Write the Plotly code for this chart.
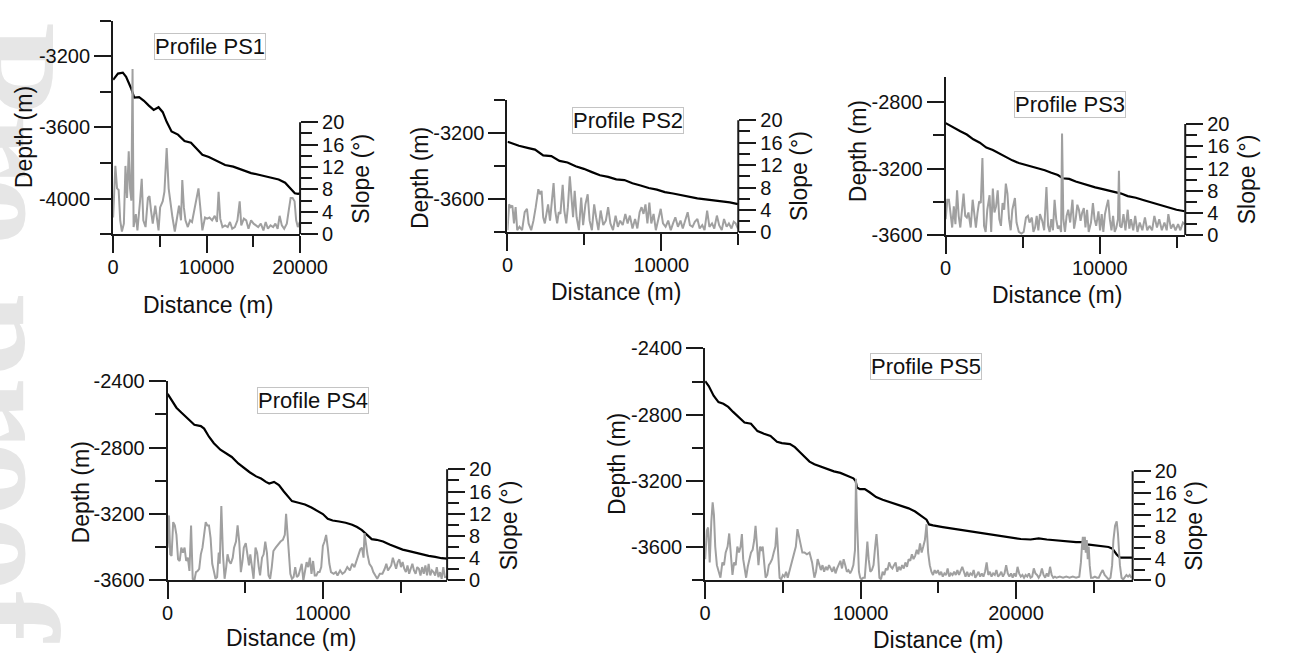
import plotly.graph_objects as go

W, H = 1296, 663

# ---------------- data ----------------
# PS1
ps1_dist = [0, 520, 1040, 1390, 1910, 2260, 2780, 3300, 3820, 4340, 4860, 5310, 5730, 6250, 6940, 7640,
            8330, 8850, 9550, 10240, 11110, 11980, 12850, 13720, 14760, 15800, 16840, 17710, 18400,
            18920, 19440, 19790, 20000]
ps1_depth = [-3333, -3297, -3292, -3315, -3378, -3432, -3429, -3450, -3477, -3501, -3486, -3514, -3568,
             -3622, -3640, -3676, -3685, -3712, -3753, -3766, -3789, -3811, -3820, -3838, -3856, -3868,
             -3879, -3892, -3910, -3937, -3969, -3973, -3970]
ps1_sdist = [0, 240, 420, 590, 760, 940, 1150, 1320, 1490, 1670, 1810, 1950, 2080, 2190, 2430, 2600, 2880,
             3060, 3230, 3470, 3720, 3890, 4060, 4240, 4510, 4690, 4860, 5030, 5310, 5490, 5730, 5940,
             6150, 6350, 6600, 6840, 7050, 7260, 7400, 7570, 7740, 7990, 8230, 8440, 8680, 8920, 9130,
             9310, 9550, 9830, 10070, 10310, 10590, 10870, 11110, 11280, 11460, 11700, 11980, 12260,
             12500, 12740, 13020, 13300, 13540, 13710, 13990, 14240, 14480, 14760, 15030, 15280, 15520,
             15800, 16080, 16320, 16560, 16840, 17120, 17360, 17600, 17810, 18050, 18300, 18580, 18780,
             18990, 19200, 19410, 19580, 19760, 19960]
ps1_slope = [3.0, 12.2, 8.2, 7.9, 2.5, 0.5, 1.9, 12.2, 6.5, 14.8, 8.2, 6.0, 29.5, 1.3, 3.6, 0.7, 5.9,
             9.9, 2.5, 1.3, 6.5, 6.8, 4.2, 1.9, 5.1, 3.0, 0.7, 4.8, 5.9, 7.6, 15.4, 8.2,
             5.3, 3.0, 0.5, 3.0, 5.1, 2.5, 9.7, 4.8, 2.5, 1.3, 2.5, 2.2, 4.5, 6.5, 8.2,
             5.1, 0.7, 3.0, 2.8, 3.0, 2.5, 3.3, 2.2, 7.6, 2.8, 1.3, 1.6, 1.3,
             2.2, 1.0, 1.3, 2.5, 5.9, 1.6, 2.8, 2.5, 1.0, 2.5, 1.9, 1.6, 1.3,
             1.9, 0.7, 2.2, 1.0, 1.6, 1.3, 1.9, 1.0, 3.3, 1.6, 1.0, 1.9, 4.2,
             6.5, 6.5, 5.9, 2.5, 1.3, 2.2]

# PS2
ps2_dist = [0, 740, 1370, 1790, 2320, 2850, 3380, 3900, 4430, 4960, 5490, 6010, 6540, 7070, 7600, 8120,
            8650, 9180, 9710, 10230, 10760, 11290, 11820, 12340, 12870, 13400, 13930, 14450, 14980]
ps2_depth = [-3252, -3277, -3291, -3300, -3335, -3339, -3368, -3378, -3401, -3416, -3436, -3455, -3465,
             -3480, -3484, -3503, -3517, -3532, -3542, -3557, -3565, -3575, -3585, -3594, -3600, -3606,
             -3614, -3619, -3629]
ps2_sdist = [0, 106, 211, 317, 422, 528, 633, 781, 950, 1118, 1266, 1372, 1540, 1688, 1836, 2005, 2110,
             2216, 2321, 2427, 2532, 2638, 2764, 2891, 2996, 3102, 3228, 3334, 3439, 3587, 3693, 3819,
             3925, 4051, 4157, 4262, 4368, 4494, 4642, 4790, 4916, 5064, 5212, 5338, 5486, 5634, 5760,
             5908, 6056, 6225, 6393, 6541, 6689, 6858, 7026, 7174, 7322, 7491, 7659, 7807, 7955, 8124,
             8292, 8440, 8588, 8714, 8841, 8968, 9094, 9221, 9347, 9495, 9643, 9812, 9959, 10107, 10276,
             10445, 10613, 10761, 10909, 11078, 11246, 11394, 11542, 11711, 11858, 12027, 12175, 12344,
             12491, 12660, 12808, 12977, 13124, 13293, 13441, 13610, 13757, 13926, 14074, 14243, 14390,
             14559, 14707, 14833, 14981]
ps2_slope = [0.4, 5.0, 4.5, 4.8, 1.6, 4.5, 0.4, 1.0, 0.4, 3.6, 4.2, 1.6, 0.4, 2.1, 4.5, 7.7, 6.8,
             7.4, 2.7, 1.6, 3.3, 5.0, 2.1, 6.5, 8.8, 3.9, 1.6, 3.6, 3.3, 8.5, 3.9, 1.6,
             4.5, 10.0, 5.6, 2.7, 7.4, 2.7, 0.4, 6.2, 1.3, 5.0, 6.8, 2.1, 0.4, 5.0, 2.7,
             0.4, 3.9, 1.3, 2.1, 4.5, 1.6, 0.4, 3.0, 1.0, 2.1, 1.3, 3.3, 1.6, 3.0, 0.7,
             2.4, 0.7, 3.6, 4.5, 3.3, 5.0, 1.6, 5.3, 1.6, 3.3, 0.4, 2.4, 4.2, 1.6, 1.0,
             2.1, 0.4, 1.6, 2.7, 1.0, 2.1, 0.7, 2.1, 3.6, 1.3, 1.0, 1.9, 2.4,
             0.7, 1.3, 0.4, 3.9, 1.0, 1.6, 0.7, 3.0, 1.3, 0.4, 2.4, 1.0, 1.6,
             0.7, 1.9, 1.6, 0.7]

# PS3
ps3_dist = [0, 528, 950, 1371, 1793, 2215, 2637, 3060, 3481, 3903, 4325, 4747, 5170, 5591, 6013, 6435,
            6857, 7280, 7596, 8018, 8440, 8862, 9284, 9706, 10128, 10550, 10972, 11394, 11816, 12344,
            12871, 13399, 13926, 14454, 14981, 15509]
ps3_depth = [-2928, -2957, -2977, -2996, -3025, -3045, -3074, -3089, -3109, -3132, -3151, -3167, -3177,
             -3186, -3200, -3210, -3225, -3239, -3258, -3262, -3278, -3291, -3303, -3313, -3322, -3330,
             -3340, -3350, -3365, -3375, -3390, -3404, -3419, -3433, -3447, -3456]
ps3_sdist = [0, 106, 211, 317, 422, 528, 633, 739, 844, 950, 1055, 1161, 1266, 1372, 1477, 1625, 1751,
             1857, 1962, 2068, 2173, 2279, 2384, 2490, 2595, 2701, 2849, 2954, 3060, 3165, 3271, 3376,
             3482, 3587, 3693, 3798, 3904, 4009, 4115, 4220, 4326, 4494, 4600, 4748, 4916, 5064, 5212,
             5338, 5444, 5592, 5697, 5803, 5908, 6014, 6119, 6267, 6393, 6541, 6647, 6752, 6858, 6963,
             7069, 7174, 7280, 7385, 7491, 7554, 7638, 7744, 7849, 7955, 8081, 8229, 8335, 8440, 8546,
             8651, 8757, 8862, 8968, 9073, 9179, 9284, 9432, 9558, 9664, 9769, 9917, 10023, 10128,
             10234, 10339, 10445, 10550, 10656, 10761, 10867, 10972, 11078, 11183, 11246, 11310, 11415,
             11542, 11668, 11816, 11922, 12027, 12175, 12301, 12449, 12597, 12766, 12934, 13082, 13230,
             13399, 13546, 13715, 13863, 14032, 14200, 14348, 14454, 14622, 14770, 14918, 15087, 15234,
             15403, 15509]
ps3_slope = [2.9, 6.4, 6.4, 4.1, 1.4, 5.2, 2.0, 8.1, 3.5, 1.4, 4.1, 7.5, 3.5, 3.2, 4.1, 1.4, 6.4,
             3.2, 1.4, 4.1, 6.1, 5.8, 13.9, 1.7, 0.6, 4.6, 7.2, 0.6, 8.4, 4.1, 5.2, 8.1,
             2.9, 1.7, 5.8, 4.6, 9.3, 7.5, 2.9, 0.9, 4.6, 6.7, 2.3, 0.6, 0.3, 0.6, 3.2,
             3.5, 2.3, 3.2, 0.6, 1.4, 3.5, 0.9, 3.8, 2.6, 0.9, 8.7, 1.7, 0.6, 2.9, 0.9,
             6.4, 2.9, 1.2, 1.7, 0.6, 18.3, 2.9, 0.6, 3.5, 4.6, 2.3, 6.4, 1.2, 2.9, 5.5,
             4.6, 2.6, 4.1, 4.9, 1.4, 4.6, 0.6, 2.3, 5.8, 2.9, 1.7, 4.3, 0.9, 3.8,
             0.6, 3.8, 5.2, 6.4, 2.9, 0.9, 3.5, 0.6, 1.4, 2.9, 11.6, 1.7, 1.4,
             3.8, 0.9, 4.6, 1.2, 2.9, 0.9, 3.5, 0.6, 2.3, 0.9, 3.2, 0.9, 1.7,
             0.9, 3.5, 1.4, 2.9, 0.9, 2.3, 0.9, 3.8, 1.2, 2.0, 0.9, 2.0, 0.9,
             2.3, 2.0]

# PS4
ps4_dist = [0, 252, 566, 880, 1195, 1509, 1719, 2138, 2348, 2662, 2976, 3396, 3710, 4129, 4548, 4967,
            5282, 5701, 6016, 6330, 6540, 6854, 7168, 7483, 7797, 8007, 8426, 8845, 9264, 9684, 9998,
            10312, 10627, 11046, 11465, 11884, 12199, 12513, 12827, 13142, 13456, 13876, 14295, 14714,
            15133, 15553, 15972, 16391, 16810, 17229, 17648, 18000]
ps4_depth = [-2476, -2511, -2559, -2588, -2617, -2647, -2662, -2670, -2685, -2734, -2773, -2812, -2831,
             -2856, -2895, -2928, -2948, -2973, -2986, -3006, -3016, -3006, -3025, -3064, -3103, -3122,
             -3132, -3142, -3161, -3181, -3200, -3229, -3239, -3245, -3252, -3264, -3278, -3297, -3326,
             -3351, -3355, -3365, -3384, -3400, -3414, -3423, -3433, -3443, -3452, -3458, -3466, -3468]
ps4_sdist = [0, 84, 168, 252, 356, 461, 566, 671, 776, 880, 985, 1090, 1195, 1300, 1404, 1509, 1614,
             1719, 1824, 1928, 2033, 2138, 2243, 2348, 2452, 2557, 2662, 2767, 2872, 2976, 3081, 3186,
             3291, 3354, 3458, 3563, 3668, 3773, 3857, 3961, 4066, 4192, 4276, 4402, 4506, 4611, 4716,
             4821, 4905, 5030, 5135, 5240, 5324, 5429, 5533, 5659, 5764, 5869, 5953, 6078, 6183, 6288,
             6393, 6498, 6602, 6707, 6812, 6959, 7126, 7273, 7420, 7546, 7629, 7713, 7797, 7902, 8007,
             8112, 8216, 8321, 8426, 8531, 8636, 8740, 8845, 8950, 9055, 9160, 9264, 9369, 9474, 9579,
             9684, 9788, 9893, 9998, 10103, 10208, 10312, 10417, 10522, 10690, 10836, 10941, 11109,
             11256, 11402, 11570, 11738, 11884, 12031, 12157, 12303, 12408, 12513, 12618, 12680, 12764,
             12869, 12995, 13142, 13247, 13352, 13498, 13666, 13834, 13980, 14085, 14190, 14295, 14400,
             14504, 14609, 14714, 14819, 14924, 15029, 15133, 15238, 15343, 15448, 15553, 15657, 15762,
             15867, 15972, 16077, 16181, 16286, 16391, 16496, 16601, 16706, 16810, 16915, 17020, 17125,
             17229, 17334, 17439, 17544, 17648, 17753, 17858, 18000]
ps4_slope = [5.9, 11.7, 4.7, 4.4, 10.5, 9.9, 8.2, 3.8, 3.5, 5.9, 5.0, 5.9, 3.5, 4.1, 1.7, 9.9, 0.3,
             0.0, 1.5, 1.7, 2.1, 4.7, 5.9, 8.2, 10.5, 9.9, 9.9, 7.6, 3.0, 1.7, 0.3, 0.6,
             5.0, 3.0, 13.4, 4.7, 0.3, 2.4, 4.7, 3.5, 3.0, 4.1, 5.9, 7.0, 9.9, 7.0, 1.5,
             3.5, 5.9, 6.7, 4.1, 2.7, 4.7, 2.4, 0.3, 5.9, 5.0, 2.4, 0.9, 4.1, 4.7, 7.0,
             5.0, 0.9, 0.3, 2.4, 5.3, 5.9, 6.5, 7.0, 7.3, 8.2, 12.0, 8.2, 4.7, 1.2, 0.3,
             0.6, 2.4, 0.6, 0.9, 1.8, 3.0, 0.0, 2.1, 3.3, 2.4, 4.1, 1.2, 3.5, 0.9, 0.9,
             1.5, 1.5, 2.4, 6.2, 7.0, 8.2, 5.9, 3.0, 1.5, 1.2, 1.5, 0.9, 1.8,
             1.2, 1.5, 2.4, 1.8, 3.0, 2.4, 3.5, 4.7, 5.6, 5.9, 4.1, 8.5, 6.5,
             4.7, 3.0, 2.4, 1.5, 0.9, 0.3, 1.2, 1.2, 2.1, 3.0, 1.8, 2.4, 2.7,
             4.1, 3.0, 2.1, 3.3, 3.8, 2.4, 3.3, 2.1, 1.5, 2.7, 1.2, 2.1, 3.0,
             1.8, 1.2, 2.4, 2.1, 0.9, 2.4, 1.2, 2.7, 0.9, 3.0, 0.9, 1.8, 1.5,
             0.9, 2.4, 0.6, 1.5, 0.3, 2.4, 0.6, 0.6]

# PS5
ps5_dist = [0, 230, 544, 857, 1171, 1485, 1798, 2112, 2530, 2948, 3367, 3785, 4203, 4621, 4935, 5458,
            5771, 6085, 6399, 6712, 7026, 7444, 7862, 8280, 8699, 9117, 9535, 9681, 9765, 9953, 10267,
            10580, 10999, 11417, 11835, 12253, 12672, 13090, 13508, 13926, 14240, 14407, 14658, 15285,
            15913, 16540, 17167, 17794, 18422, 19049, 19677, 20304, 20931, 21454, 21977, 22604, 23231,
            23858, 24277, 24528, 24695, 25322, 25950, 26201, 26473, 26682, 27205, 27500]
ps5_depth = [-2598, -2627, -2685, -2724, -2734, -2753, -2783, -2812, -2847, -2854, -2899, -2915, -2928,
             -2963, -2971, -2977, -2996, -3025, -3054, -3083, -3099, -3113, -3126, -3142, -3151, -3167,
             -3184, -3200, -3239, -3249, -3249, -3268, -3297, -3313, -3326, -3340, -3351, -3365, -3384,
             -3410, -3433, -3462, -3468, -3478, -3487, -3495, -3505, -3515, -3522, -3530, -3538, -3550,
             -3553, -3546, -3553, -3559, -3565, -3569, -3569, -3584, -3584, -3592, -3598, -3608, -3643,
             -3662, -3662, -3662]
ps5_sdist = [0, 105, 188, 293, 397, 481, 565, 648, 753, 857, 983, 1108, 1213, 1317, 1443, 1547, 1652,
             1756, 1861, 1966, 2070, 2175, 2279, 2363, 2446, 2530, 2635, 2739, 2844, 2948, 3053, 3157,
             3241, 3325, 3429, 3534, 3617, 3701, 3785, 3889, 3994, 4098, 4203, 4307, 4412, 4517, 4600,
             4684, 4788, 4893, 4997, 5102, 5207, 5311, 5416, 5520, 5625, 5729, 5834, 5938, 6043, 6148,
             6252, 6398, 6545, 6712, 6879, 7026, 7130, 7235, 7339, 7444, 7549, 7653, 7758, 7862, 7967,
             8071, 8176, 8280, 8385, 8489, 8594, 8699, 8803, 8908, 9012, 9117, 9221, 9326, 9430, 9535,
             9640, 9702, 9765, 9828, 9891, 9974, 10058, 10162, 10267, 10371, 10434, 10518, 10622, 10727,
             10831, 10936, 11020, 11103, 11208, 11312, 11417, 11522, 11626, 11731, 11835, 11940, 12044,
             12149, 12253, 12358, 12462, 12567, 12671, 12776, 12881, 12985, 13090, 13194, 13299, 13403,
             13508, 13613, 13717, 13822, 13926, 14031, 14135, 14240, 14345, 14449, 14554, 14658, 14763,
             14867, 14972, 15076, 15181, 15285, 15390, 15495, 15599, 15704, 15808, 15913, 16017, 16122,
             16226, 16331, 16435, 16540, 16645, 16749, 16854, 16958, 17063, 17167, 17272, 17376, 17481,
             17585, 17690, 17794, 17899, 18004, 18108, 18213, 18317, 18422, 18526, 18631, 18736, 18840,
             18945, 19049, 19154, 19258, 19363, 19467, 19572, 19677, 19781, 19886, 19990, 20095, 20199,
             20304, 20408, 20513, 20617, 20722, 20827, 20931, 21036, 21140, 21245, 21349, 21454, 21558,
             21663, 21768, 21872, 21977, 22081, 22186, 22290, 22395, 22499, 22604, 22813, 23022, 23231,
             23440, 23649, 23858, 24067, 24172, 24235, 24298, 24360, 24423, 24486, 24549, 24612, 24674,
             24737, 24821, 24946, 25071, 25197, 25322, 25448, 25573, 25699, 25824, 25950, 26075, 26180,
             26263, 26368, 26473, 26557, 26681, 26786, 26891, 26995, 27100, 27205, 27309, 27414]
ps5_slope = [3.9, 9.1, 9.7, 3.3, 10.8, 14.3, 12.0, 6.2, 2.8, 1.6, 0.5, 3.3, 2.8, 5.1, 6.2, 8.6, 5.1,
             1.0, 3.3, 2.8, 6.2, 5.1, 6.2, 8.5, 3.9, 2.5, 0.5, 2.5, 3.9, 5.1, 5.6, 7.4,
             10.0, 7.4, 2.8, 6.2, 5.4, 6.2, 2.8, 0.5, 1.0, 2.8, 3.3, 3.9, 5.1, 6.2, 9.7,
             5.1, 0.5, 0.2, 1.0, 0.7, 1.6, 0.5, 1.6, 2.8, 3.9, 5.1, 6.2, 9.4, 8.0, 6.2,
             5.1, 5.1, 4.8, 5.1, 3.3, 0.5, 1.6, 3.9, 2.8, 1.9, 2.8, 1.6, 2.5, 1.9, 2.8,
             2.2, 1.6, 2.5, 1.3, 2.2, 2.8, 3.6, 2.2, 3.9, 2.8, 1.6, 1.9, 1.3, 1.9, 2.8,
             5.6, 18.6, 11.4, 3.9, 1.6, 0.5, 0.2, 0.5, 0.5, 4.5, 7.1, 3.9, 1.6, 1.9,
             2.8, 6.2, 8.5, 5.6, 0.5, 0.2, 1.6, 1.0, 2.2, 1.9, 3.3, 2.5, 2.2,
             2.8, 3.3, 1.6, 2.5, 1.9, 2.8, 2.2, 3.3, 2.5, 3.9, 3.6, 4.8, 3.9,
             4.5, 5.6, 4.8, 6.8, 5.1, 6.2, 7.4, 10.3, 5.1, 2.8, 1.6, 1.0, 1.9,
             1.3, 1.9, 1.0, 1.6, 0.7, 1.3, 1.0, 2.2, 0.7, 1.3, 1.0, 1.6, 1.0,
             1.9, 1.0, 1.6, 2.5, 1.6, 0.7, 1.6, 0.7, 1.3, 1.0, 1.9, 0.5, 1.0,
             1.6, 0.7, 1.3, 0.7, 1.6, 3.3, 1.0, 1.6, 0.7, 1.3, 1.0, 1.9, 0.7,
             1.0, 1.6, 0.7, 1.3, 2.8, 1.3, 0.7, 1.3, 0.5, 1.3, 0.7, 2.5, 1.3,
             0.7, 1.0, 0.5, 1.0, 0.7, 1.3, 0.5, 0.7, 2.2, 1.3, 1.0, 0.5, 1.0,
             2.2, 1.0, 0.5, 1.3, 0.7, 2.5, 1.0, 0.5, 0.7, 0.5, 0.7, 0.5, 0.7,
             0.5, 0.7, 0.5, 0.7, 3.3, 6.2, 8.0, 5.6, 8.0, 5.1, 7.4, 3.9, 6.2,
             2.8, 0.5, 0.5, 0.7, 0.5, 0.5, 1.3, 1.9, 1.0, 0.5, 0.2, 0.5, 2.8,
             7.4, 10.0, 10.8, 8.5, 2.8, 0.5, 0.2, 0.7, 1.0, 0.7, 1.0, 0.5]

# tick labels
ps1_depth_ticks = [-4000, -3600, -3200]
ps1_depth_minor = [-4200, -3800, -3400, -3000]
ps2_depth_ticks = [-3600, -3200]
ps2_depth_minor = [-3800, -3400, -3000]
ps3_depth_ticks = [-3600, -3200, -2800]
ps3_depth_minor = [-3400, -3000]
ps4_depth_ticks = [-3600, -3200, -2800, -2400]
ps4_depth_minor = [-3400, -3000, -2600]
ps5_depth_ticks = [-3600, -3200, -2800, -2400]
ps5_depth_minor = [-3800, -3400, -3000, -2600]
dist_ticks = [0, 10000, 20000]
dist_minor = [5000, 15000, 25000]
slope_ticks = [0, 4, 8, 12, 16, 20]
slope_minor = [2, 6, 10, 14, 18]

# ---------------- layout (pixel geometry) ----------------
panels = [
    dict(title="Profile PS1", d=ps1_dist, z=ps1_depth, sd=ps1_sdist, s=ps1_slope,
         xr=[0, 20000], yr=[-4200, -3000], yt=ps1_depth_ticks, ym=ps1_depth_minor,
         px=(110, 302), py=(10, 231), stop=115, box=(209, 36.5), dtl=(18, 131), xtl=(207, 304)),
    dict(title="Profile PS2", d=ps2_dist, z=ps2_depth, sd=ps2_sdist, s=ps2_slope,
         xr=[0, 15000], yr=[-3800, -3000], yt=ps2_depth_ticks, ym=ps2_depth_minor,
         px=(515, 752), py=(92, 229), stop=113, box=(639, 113), dtl=(425, 173), xtl=(626, 291)),
    dict(title="Profile PS3", d=ps3_dist, z=ps3_depth, sd=ps3_sdist, s=ps3_slope,
         xr=[0, 15550], yr=[-3600, -2650], yt=ps3_depth_ticks, ym=ps3_depth_minor,
         px=(965, 1211), py=(68, 232), stop=117, box=(1093, 97), dtl=(875, 145), xtl=(1079, 294)),
    dict(title="Profile PS4", d=ps4_dist, z=ps4_depth, sd=ps4_sdist, s=ps4_slope,
         xr=[0, 18000], yr=[-3600, -2400], yt=ps4_depth_ticks, ym=ps4_depth_minor,
         px=(166, 453), py=(383, 589), stop=474, box=(315, 403), dtl=(77, 498), xtl=(293, 649)),
    dict(title="Profile PS5", d=ps5_dist, z=ps5_depth, sd=ps5_sdist, s=ps5_slope,
         xr=[0, 27500], yr=[-3800, -2400], yt=ps5_depth_ticks, ym=ps5_depth_minor,
         px=(718, 1157), py=(349, 589), stop=476, box=(945, 368), dtl=(628, 469), xtl=(957, 651)),
]

FONT = "Liberation Sans, Arial, sans-serif"
AX = "#1a1a1a"
TICKFONT = dict(family=FONT, size=20, color="#111111")
TITLEFONT = dict(family=FONT, size=23, color="#111111")
MAJ, MIN = 17, 11


def fx(p):
    return p / W


def fy(p):
    return 1 - p / H


fig = go.Figure()
layout = dict(width=W, height=H, margin=dict(l=0, r=0, t=0, b=0), autosize=False,
              paper_bgcolor="white", plot_bgcolor="white", showlegend=False)
annotations = []
shapes = []

# faint watermark along the left edge, drawn beneath everything
shapes.append(dict(type="rect", xref="paper", yref="paper", x0=fx(-95), x1=fx(125),
                   y0=fy(663), y1=fy(0), line=dict(width=0), fillcolor="rgba(0,0,0,0)",
                   layer="below",
                   label=dict(text="Pre-proof", textangle=90, textposition="middle center",
                              font=dict(family="Liberation Serif, serif", size=150,
                                        color="#e6e6e6", weight="bold"))))

for i, p in enumerate(panels, start=1):
    xa = "x" if i == 1 else f"x{i}"
    ya_d = 2 * i - 1
    ya_s = 2 * i
    yd = "y" if ya_d == 1 else f"y{ya_d}"
    ys = f"y{ya_s}"
    x0, x1 = p["px"]
    top, bot = p["py"]
    dom_x = [fx(x0), fx(x1)]
    dom_y = [fy(bot), fy(top)]
    smax = 20 * (bot - top) / (bot - p["stop"])

    fig.add_trace(go.Scatter(x=p["d"], y=p["z"], xaxis=xa, yaxis=yd, mode="lines",
                             line=dict(color="#000000", width=2.2), hoverinfo="skip"))
    fig.add_trace(go.Scatter(x=p["sd"], y=p["s"], xaxis=xa, yaxis=ys, mode="lines",
                             line=dict(color="#a0a0a0", width=2), hoverinfo="skip"))

    xt = [v for v in dist_ticks if p["xr"][0] <= v <= p["xr"][1]]
    xm = [v for v in dist_minor if p["xr"][0] <= v <= p["xr"][1]]
    common = dict(showgrid=False, zeroline=False, ticks="outside", ticklen=MAJ, tickwidth=2,
                  tickcolor=AX, tickmode="array", tickfont=TICKFONT)
    layout["xaxis" if i == 1 else f"xaxis{i}"] = dict(
        domain=dom_x, anchor=yd, range=p["xr"], showline=True, linecolor=AX, linewidth=2,
        tickvals=xt, ticktext=[str(v) for v in xt], ticklabelstandoff=-3,
        minor=dict(tickmode="array", tickvals=xm, ticks="outside", ticklen=MIN, tickwidth=2,
                   tickcolor=AX, showgrid=False), **common)
    layout["yaxis" if ya_d == 1 else f"yaxis{ya_d}"] = dict(
        domain=dom_y, anchor=xa, range=p["yr"], showline=True, linecolor=AX, linewidth=2,
        tickvals=p["yt"], ticktext=[str(v) for v in p["yt"]],
        minor=dict(tickmode="array", tickvals=p["ym"], ticks="outside", ticklen=MIN, tickwidth=2,
                   tickcolor=AX, showgrid=False), **common)
    layout[f"yaxis{ya_s}"] = dict(
        domain=dom_y, anchor=xa, overlaying=yd, side="right", range=[0, smax], showline=False,
        tickvals=slope_ticks, ticktext=[str(v) for v in slope_ticks],
        minor=dict(tickmode="array", tickvals=slope_minor, ticks="outside", ticklen=MIN,
                   tickwidth=2, tickcolor=AX, showgrid=False), **common)
    # slope axis line only spans 0..20
    shapes.append(dict(type="line", xref=f"{xa} domain", x0=1, x1=1, yref=ys, y0=0, y1=20,
                       line=dict(color=AX, width=2)))

    # titles
    annotations.append(dict(text="Depth (m)", x=fx(p["dtl"][0]), y=fy(p["dtl"][1]), xref="paper",
                            yref="paper", showarrow=False, textangle=-90, font=TITLEFONT,
                            xanchor="center", yanchor="middle"))
    annotations.append(dict(text="Distance (m)", x=fx(p["xtl"][0]), y=fy(p["xtl"][1]),
                            xref="paper", yref="paper", showarrow=False, font=TITLEFONT,
                            xanchor="center", yanchor="middle"))
    annotations.append(dict(text="Slope (°)", x=fx(x1 + 63), y=fy((bot + p["stop"]) / 2),
                            xref="paper", yref="paper", showarrow=False, textangle=-90,
                            font=TITLEFONT, xanchor="center", yanchor="middle"))
    annotations.append(dict(text=p["title"], x=fx(p["box"][0]), y=fy(p["box"][1]), xref="paper",
                            yref="paper", showarrow=False,
                            font=dict(family=FONT, size=22, color="#111111"),
                            bgcolor="white", bordercolor="#c4c4c4", borderwidth=1, borderpad=0,
                            xanchor="center", yanchor="middle"))

layout["annotations"] = annotations
layout["shapes"] = shapes
fig.update_layout(**layout)

fig.write_html("out.html", config={"displayModeBar": False, "staticPlot": True},
               post_script="document.body.style.margin='0px';document.body.style.overflow='hidden';")
